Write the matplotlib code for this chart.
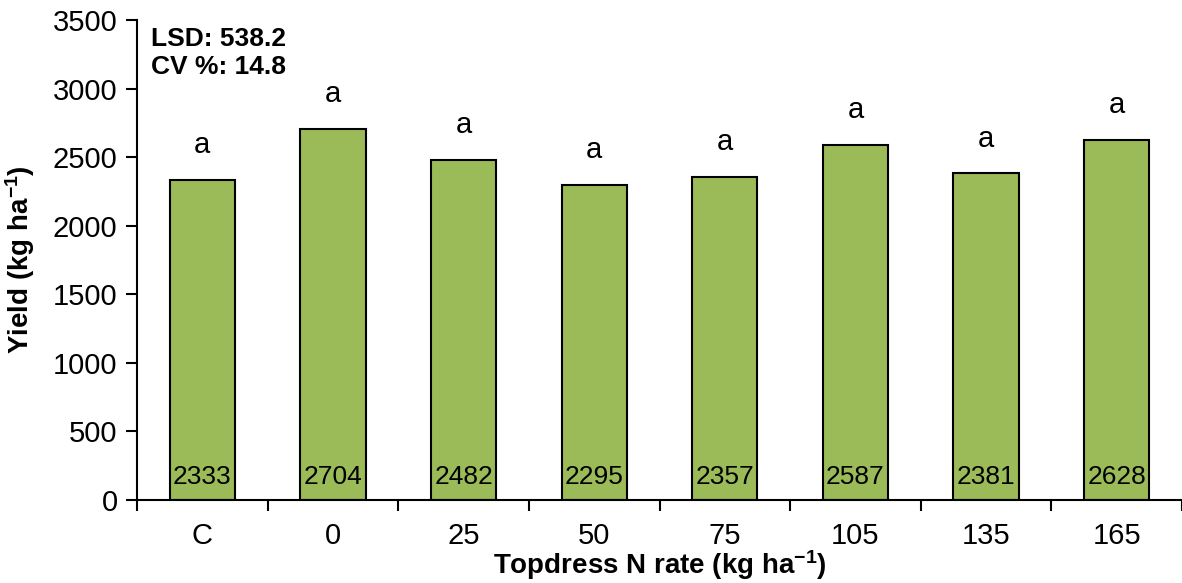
import matplotlib
matplotlib.use("Agg")
import matplotlib.pyplot as plt
import numpy as np
from matplotlib.ticker import FixedLocator

plt.rcParams['font.family'] = ['Liberation Sans', 'DejaVu Sans']
plt.rcParams['mathtext.fontset'] = 'custom'
plt.rcParams['mathtext.rm'] = 'Liberation Sans'
plt.rcParams['mathtext.bf'] = 'Liberation Sans:bold'
plt.rcParams['mathtext.default'] = 'bf'

categories = ["C", "0", "25", "50", "75", "105", "135", "165"]
yields = [2333, 2704, 2482, 2295, 2357, 2587, 2381, 2628]
letters = ["a", "a", "a", "a", "a", "a", "a", "a"]
lsd_text = "LSD: 538.2\nCV %: 14.8"

fig = plt.figure(figsize=(11.82, 5.83), dpi=100)
ax = fig.add_axes([137/1182, 1-500/583, 1-137/1182, (500-20)/583])

x = np.arange(len(categories))
bars = ax.bar(x, yields, width=0.5, color="#9BBB59", edgecolor="black", linewidth=1.5)

for xi, v, l in zip(x, yields, letters):
    ax.annotate(l, (xi, v), xytext=(0, 15), textcoords="offset points",
                ha="center", va="bottom", fontsize=21)
    ax.annotate(str(v), (xi, 0), xytext=(0, 8), textcoords="offset points",
                ha="center", va="bottom", fontsize=19)

ax.set_xlim(-0.5, len(categories) - 0.5)
ax.set_ylim(0, 3500)
ax.set_yticks(np.arange(0, 3501, 500))
ax.set_xticks(x)
ax.set_xticklabels(categories, fontsize=21)
ax.xaxis.set_minor_locator(FixedLocator(np.arange(-0.5, len(categories) - 0.4, 1)))
ax.tick_params(axis="x", which="major", length=0, pad=16)
ax.tick_params(axis="x", which="minor", length=8, width=1.5, direction="out")
ax.tick_params(axis="y", length=8, width=1.5, direction="out", labelsize=21, pad=6)

for s in ["top", "right"]:
    ax.spines[s].set_visible(False)
for s in ["left", "bottom"]:
    ax.spines[s].set_linewidth(1.5)

ax.set_xlabel("Topdress N rate (kg ha$^{-1}$)", fontsize=20, fontweight="bold")
ax.xaxis.set_label_coords(0.5, -0.1)
ax.set_ylabel("Yield (kg ha$^{-1}$)", fontsize=20, fontweight="bold")
ax.yaxis.set_label_coords(-0.096, 0.5)

ax.text(0.013, 0.985, lsd_text, transform=ax.transAxes, ha="left", va="top",
        fontsize=19, fontweight="bold", linespacing=1.2)

fig.savefig("out.png", dpi=100)
